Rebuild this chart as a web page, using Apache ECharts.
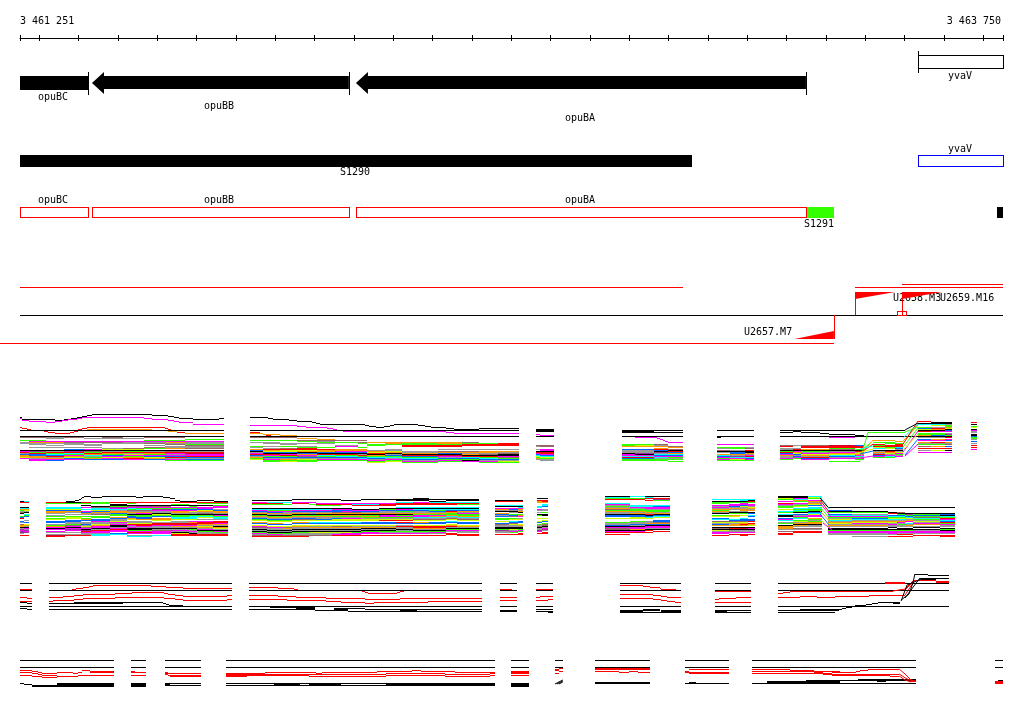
<!DOCTYPE html>
<html>
<head>
<meta charset="utf-8">
<title>opuB region</title>
<script src="https://cdn.jsdelivr.net/npm/echarts@6/dist/echarts.min.js"></script>
<style>
html, body { margin: 0; background: #fff; }
#chart { width: 1024px; height: 714px; }
</style>
</head>
<body>
<div id="chart"></div>
<script>
// x values are bp from the window start, y values are track rows
const rulerTicks = [0,49,149,249,349,449,549,649,749,849,949,1049,1149,1249,1349,1449,1549,1649,1749,1849,1949,2049,2149,2249,2349,2449,2499];
const rulerEnds = [0, 2499];
const rulerLabels = ['3 461 251', '3 463 750'];

const opuNames = ['opuBC', 'opuBB', 'opuBA'];
const opuStart = [0, 183, 854];
const opuEnd = [173, 836, 1998];
const yvaName = 'yvaV';
const yvaStart = 2283;
const yvaEnd = 2499;
const s1290End = 1708;
const s1291Start = 2001;
const s1291End = 2069;
const lastMarkStart = 2484;

// U2657 / U2658 / U2659 transcription units
const unitNames = ['U2657.M7', 'U2658.M3', 'U2659.M16'];
const unitNameX = [1841, 2219, 2339];
const unitNameY = [332, 298, 298];
const wedgeBase = [2069, 2123, 2242];
const wedgeTip = [1969, 2225, 2344];

// k black, r red, g green, b blue, m magenta, c cyan, y yellow, o orange, a grey, t brown, p purple, d dark red, u pure blue
const colorCodes = 'krgbmcyoatpdu';
const colorValues = ['#000000','#ff0000','#33ff00','#0066ff','#ff00ff','#00ffff','#ccff00','#ff9900','#999999','#996666','#993399','#cc0033','#0000ff'];

// profiles: code, x0, y0, x1, y1, ... xn
const profiles1 = [
  ['k',0,417,5,419,89,420,112,419,130,418,145,417,158,416,170,415,183,414,336,415,376,416,392,417,404,418,440,419,506,418,519],
  ['m',0,418,5,420,23,421,66,422,89,421,107,420,122,419,145,418,158,417,315,418,336,419,376,420,392,421,404,422,440,424,519],
  ['r',0,427,5,428,18,429,28],
  ['r',61,431,71,432,89,433,127,432,137,431,147,429,158,428,170,427,369,428,376,429,384],
  ['o',170,429,336],['o',376,431,399,432,419,433,519],['r',399,432,419],
  ['k',0,430,519],['k',0,436,519],
  ['k',585,417,630,418,643,419,684,420,704,421,742,422,752,423,763,424,877,425,887,426,905,427,925,426,941,425,951,424,1012,425,1030,426,1045,427,1083,428,1103,429,1167,428,1269],
  ['k',1103,430,1167],['k',585,430,1269],['k',585,436,1269],
  ['m',585,425,704,426,727,427,780,428,796,429,806],['m',821,431,1083,432,1103,433,1269],
  ['r',585,432,610],['o',585,433,618,434,661,435,704],['r',625,435,638],
  ['k',1312,429,1358],['k',1312,430,1358],['k',1312,431,1358],['m',1312,434,1322,435,1358],['k',1312,436,1358],
  ['k',1530,430,1685],['k',1530,431,1612],['k',1530,432,1685],['k',1530,436,1685],
  ['m',1563,437,1620,438,1627,439,1635,440,1640,441,1647,442,1685],
  ['k',1772,430,1866],['k',1772,436,1866],['k',1772,437,1782],
  ['k',1932,430,2250],['k',1932,432,1965,431,1985,432,2034,433,2057,434,2123,435,2146],['k',1932,436,2369],
  ['m',2057,437,2123],['r',2283,421,2316],['k',2316,422,2369],['k',2283,423,2369],
  ['g',2156,432,2250],['g',2057,461,2135]
];

const profiles2 = [
  ['k',117,501,140,500,150,499,155,498,158,497,163,496,180,497,208,496,295,497,313,496,364,497,381,498,394,500,407,501,450,500,493,501,529],
  ['k',1000,498,1040],['k',2054,507,2377]
];

const profiles3 = [
  ['k',0,583,31],['r',0,589,31],['k',0,590,31],['r',0,597,18,598,31],['r',0,601,31],['k',0,602,18,603,31],['k',0,606,31],['k',0,608,18,609,31],
  ['k',74,583,539],['k',74,590,539],
  ['r',132,589,142,588,160,587,175,586,186,585,333,586,371,587,414,588,539],
  ['r',74,597,109,596,137,595,160,594,242,593,285,592,366,593,376,594,394,595,414,596,526,595,539],
  ['r',74,601,84,600,137,599,160,598,242,597,366,598,394,599,414,600,526,599,539],
  ['k',74,603,262],['k',137,602,262],['k',262,602,364,603,371,604,379,605,414],['k',74,606,539],['k',74,609,539],
  ['k',582,583,1175],['k',582,590,1175],['k',582,606,1175],
  ['r',582,587,656,588,697,589,707],['r',869,591,877,592,885,593,958,592,966,591,976],
  ['r',582,595,656,596,702,597,778,598,877,599,966,598,1175],
  ['r',582,599,679,600,778,601,816,602,877,603,900,602,1037,601,1175],
  ['k',636,607,702],['k',582,609,702],['k',702,607,750],['k',702,608,750],['k',702,609,750],['k',750,610,798],
  ['k',798,608,834],['k',798,609,834],['k',798,610,834],['k',834,608,877],['k',834,611,877],
  ['k',877,609,966],['k',877,611,1175],['k',966,609,1009],['k',966,610,1009],['k',1009,609,1175],
  ['k',1220,583,1263],['r',1220,589,1251],['k',1220,590,1263],['r',1220,597,1263],['r',1220,600,1263],['k',1220,606,1263],['k',1220,610,1263],['k',1220,611,1263],
  ['k',1312,583,1355],['r',1312,589,1355],['k',1312,590,1355],['r',1312,597,1322,596,1355],['r',1312,600,1342,599,1355],['k',1312,606,1355],['k',1312,609,1355],['k',1312,611,1355],['k',1342,612,1355],
  ['k',1525,583,1680],['r',1525,585,1584,586,1602,587,1627,588,1630,589,1668],['k',1525,590,1680],
  ['r',1525,594,1609,595,1630,596,1645,597,1680],['r',1525,598,1609,599,1630,600,1645,601,1665,602,1680],['k',1525,606,1680],
  ['k',1525,610,1584],['k',1525,611,1584],['k',1525,612,1584],['k',1584,609,1627],['k',1584,610,1627],['k',1584,612,1680],['k',1630,610,1680],['k',1630,611,1680],
  ['k',1767,583,1858],['k',1767,590,1858],['r',1767,591,1858],['r',1767,599,1777,598,1820,597,1858],['r',1767,602,1858],['k',1767,606,1858],
  ['k',1767,610,1797],['k',1767,611,1797],['k',1767,612,1797],['k',1797,610,1858],['k',1797,612,1858],
  ['k',1927,583,2362],['k',1927,590,2362],['k',1927,606,2362],
  ['r',1927,593,1940,592,1957,591,2219],['r',1927,597,1983,596,2026,597,2072,596,2158,595,2250],
  ['r',2199,582,2250],['r',2199,583,2250],['r',2275,580,2329,581,2362],['r',2329,582,2362],
  ['k',1927,610,1983],['k',1983,609,2082],['k',1983,610,2082],
  ['k',2082,609,2090,608,2100,607,2115,606,2123,605,2151,604,2166,603,2181,602,2237],['k',2130,606,2151],['k',2219,603,2237],
  ['k',1927,612,2072],['k',2275,574,2308,575,2362],['k',2288,578,2362],['k',2291,579,2329]
];

const profiles4 = [
  ['k',0,660,239],['k',0,667,239],
  ['r',0,670,31,671,46,672,56,673,94,672,135,673,147,672,158,670,178,671,239],['r',178,672,239],
  ['r',0,672,31,673,46,674,56,675,94,676,147,675,239],['r',0,675,31,676,56,677,94,676,147,675,239],
  ['k',0,683,10,684,31,685,94,684,239],['k',31,686,94],['k',94,683,239],['k',94,685,239],['k',94,686,239],
  ['k',282,660,320],['k',282,667,320],['r',282,671,292,672,320],['r',282,672,292],['r',282,675,320],
  ['k',282,683,320],['k',282,684,320],['k',282,685,320],['k',282,686,320],
  ['k',369,660,460],['k',369,667,460],['r',369,672,376,673,460],['r',369,673,376],['r',369,674,376,675,381,676,460],['r',381,675,460],
  ['k',369,683,460],['k',369,685,460],['k',369,684,381],
  ['k',524,660,1208],['k',524,667,1208],
  ['r',524,673,623,672,752,673,768,672,908,671,997,670,1019,671,1106,672,1208],
  ['r',524,674,930,673,1080,674,1195,673,1208],['r',524,676,577,675,735,676,930,675,1080,676,1195,675,1208],['r',524,675,623],
  ['k',524,683,1208],['k',524,685,1208],['k',646,684,712],['k',735,684,816],['k',930,684,1208],
  ['k',1248,660,1294],['k',1248,667,1294],['r',1248,671,1294],['r',1248,672,1294],['r',1248,673,1294],['r',1248,675,1294],
  ['k',1248,683,1294],['k',1248,684,1294],['k',1248,685,1294],['k',1248,686,1294],
  ['k',1360,660,1380],['k',1360,667,1380],['r',1360,669,1370],['r',1360,670,1370],['r',1370,668,1380],['r',1370,671,1380],['r',1360,673,1370],
  ['k',1462,660,1602],['k',1462,667,1602],['r',1462,668,1602],['r',1462,669,1602],['r',1462,671,1523,672,1548,671,1571,672,1602],['k',1462,682,1602],['k',1462,683,1602],
  ['k',1691,660,1802],['k',1691,667,1802],['r',1691,671,1701,669,1802],['r',1701,672,1802],['r',1701,673,1802],['r',1691,672,1701],['k',1691,683,1802],['k',1701,682,1719],
  ['k',1861,660,2278],['k',1861,667,2278],
  ['r',1861,669,1957,670,2019,671,2064,672,2125,671,2135,670,2156,669,2235],['r',1957,671,2019],['r',2064,671,2085],
  ['r',1861,671,2019,672,2041,673,2064,674,2235],['r',1861,673,2041,674,2064,675,2212,676,2235],['r',2260,680,2278],['r',2260,681,2278],
  ['k',1861,683,2278],['k',1899,681,2085],['k',1899,682,2085],['k',1998,680,2085],['k',2085,680,2278],['k',2130,679,2278],['k',2179,681,2202],
  ['k',2479,660,2499],['k',2479,667,2499],['r',2479,681,2499],['r',2479,682,2499],['r',2479,683,2499],['k',2486,680,2499]
];

// sloped profiles, code then x,y pairs
const slopes = [
  ['g',2135,461,2156,432],['o',2135,455,2169,440],['r',2140,452,2169,444],['m',2135,458,2169,456],['c',2135,449,2169,446],['y',2130,453,2169,449],['b',2135,454,2169,451],['g',2140,450,2162,443],
  ['o',2245,441,2283,425],['g',2245,447,2283,428],['m',2245,452,2283,431],['c',2245,438,2283,424],['r',2245,444,2283,421],['b',2250,455,2283,439],['y',2245,450,2283,434],['m',2250,456,2283,444],['k',2250,430,2283,423],['g',2250,432,2283,427],
  ['c',2034,497,2057,509],['k',2034,498,2054,507],['r',2034,500,2057,512],['m',2034,503,2060,516],['g',2034,507,2057,518],['o',2034,511,2060,522],['b',2034,514,2057,525],['y',2036,520,2062,529],['m',2041,523,2065,530],
  ['r',2250,595,2275,580],['r',2219,591,2250,589,2270,581],['r',2250,590,2270,582],
  ['k',2240,600,2260,594,2270,583,2275,574],['k',2250,598,2265,590,2288,578],['k',2240,601,2255,585,2291,579],
  ['r',2235,669,2250,674,2265,680,2278,681],['r',2235,674,2255,679,2270,681],['r',2235,676,2250,680,2265,682],
  ['k',1360,684,1380,680],['k',1365,684,1380,681],['k',1370,684,1380,682]
];

// stacks: column breaks, first row, one string of rows per column ('.' = no line)
const stack1aX = [0,23,66,112,163,208,262,315,369,419,519];
const stack1aTop = 437;
const stack1aCols = [
  't..g.aa......kmrabooym..','t..gmoaa..a..kpgrbbooamm','aa..moa.a.a..kargcbraomb','t...mtaa..a.bkprcgmoybm.','.a..mt.aa.a.mktgrocagob.',
  'ta..mta....aykarogbmymb.','.a..maa....tykgraymgorm.','t..gmat.a.tg.karogmbyob.','t..gmoat.aao.ktrmambramg','..g.maagtaat.kardmmrbabg'
];
const stack1bX = [585,618,661,704,755,801,859,882,928,971,1063,1124,1167,1215,1269];
const stack1bTop = 437;
const stack1bCols = [
  't..g.a...ga.obkamrbaogy...','t..g.aa..a.aroybkrmgbamgg.','t..g..aa.g.tryybkmrgbaogy.','.o.tg.a..agrryokbomtbaygg.','..otaga...g.roobkrcgbamg..',
  '...t.g..am..oombkrgcbamg..','...t.tg...g.oombkargbcmg..','.....o.gg....aoyrkogcbamgy','.....oog....aayokabgcamgy.','.....oggrr....aaokrbgcbamg',
  '.....oogrr..a.tobkdmabgmg.','.....tgrr...a.toaokrcbgkm.','......grr...a.ooatkrgcbamg','......rrr...a.oatkkmtgbayg'
];
const stack1cX = [1312,1322,1358];
const stack1cTop = 445;
const stack1cCols = ['ta..a.krmbcygoa.','tt..mmkrrmbcygaa'];
const stack1dX = [1530,1563,1612,1647,1685];
const stack1dTop = 444;
const stack1dCols = ['ggo..baaakmmcrbgg.','gyo..baaapkmcrbgg.','tao.orbkpacbmcagg.','..to.tkrbocbmgag.g'];
const stack1eX = [1772,1805,1843,1866];
const stack1eTop = 444;
const stack1eCols = ['m..ga.tka.ocbmgmg.','m..gg.akbboapcmyg.','m..at.rkkoamrcbmg.'];
const stack1fX = [1932,1965,1985,2057,2123,2146];
const stack1fTop = 445;
const stack1fCols = ['tr.aakgrbmoaamg.','a..arkmoybabmg..','trr.okgamyoarbm.','drrgtkamoycbam..','brr.gkrayomcamg.'];
const stack1gX = [2169,2199,2224,2245];
const stack1gTop = 440;
const stack1gCols = ['o.g.rgryc.kaoarbmg.','o.gg.rrgy.kroyamcg.','.o.grrrcbakaymgam..'];
const stack1hX = [2283,2316,2352,2369];
const stack1hTop = 424;
const stack1hCols = ['c..gbykr.ggoka.bm.oag.t.r.a.m.','cy.arokm.ggbka.om.rag.o.r.y.m.','aggoykbm.apgkr.mb.oat.b.r.k.m.'];
const stack1iX = [2418,2433];
const stack1iTop = 422;
const stack1iCols = ['r.k.gy.kmaa.kkbgga.b.a.r.r.m'];

const stack2aX = [0,10,23];
const stack2aTop = 501;
const stack2aCols = ['kr....kcogatk..gbr..ba.tookapmppa.r','cr....kcoyak.cgb...a.b.yoakmapmp..r'];
const stack2bX = [66,114,155,180,229,272,295,336,384,429,450,491,529];
const stack2bTop = 502;
const stack2bCols = [
  'rg...ccybooa.ag.gy.bb.agomkm.ma.adr','kg...ccyboa.a.gyy.bbaagtmkmpm.a.ar','rg.k.m.c.mboa.g.gob.aabaytmkprmaar','gg..ktccyboat.gg.bbmaayommkarmmacc',
  'r.kkgpmcaoobgg.obaaymamkkamrmm.bc','rg.ktmcgtaoakgbboy.aayrmamkkgmrm.ac','r..kpmgctaomkggbbo.aayrrmakkgmrm.ac','r..ktmgpmaakygb.ooy.arrmaakatmmm.c',
  'r.gk.mgbmooakggccy.aarrmoakamakyrr','r..kgmgbmyaakgcccy.morrmoakgamakrr','rg.k.mmbyoatkgcy.a.mrroayoamkgaarr','rg.gmm.abooakmgcca.rrmoakoyakmgarr'
];
const stack2cX = [590,628,669,691,735,752,793,816,844,867,913,956,1000,1040,1083,1111,1167];
const stack2cTop = 499;
const stack2cCols = [
  '.k.mrg...kcmbaokgoabgy.ob.ymtakakgmatr','.k.crg...kcgmboakgoabgy.ob.ymaakakgmtr','.k.c.g...kcgmaaokgoabgy..b.ytoakakgatr','k..mr....kcmbaokgoabty.ob.yoaakakgaatr',
  'k..m.g...kcmbaakgoabty.cb.yaoakakyaat.','k...mrg..kcmbaokgoaaby.cb.yaoakakyaat','k...mrg..kmbbtokogabyy.cb.ytoakakyamr','.k..mr...kmbmtokogamyy.cb.ytoakakymmr',
  '.k..mcr...kmbtokogamyy.cb.yaoakakgmmr','k...mcr...kmbaokgogayy.bb.yaokakgmm.r','k...mrr..kgbaaokmmgayr.bb.yaokakgam.r','kk.crr..ckmbgaokgmgayr.rb.araakagam.r',
  'kk.mrr..ckcbaaogmmcaty.ob.yrroakgam.r','k.kcrr..ckcgbaogmocaty.bb.yrroakgma.r','kk.crr..ckcbroggocaty.cb.yorakgma.rr','kk.crg..ckcboamggocaty.bb.yoakgmaa.rr'
];
const stack2dX = [1208,1243,1266,1279];
const stack2dTop = 500;
const stack2dCols = ['kr...ck.moak.obab.gg.y.btaakkgpaa.r','kr...ck.mbaka.gbt.gy.cbtyaakkyamg.r','kr...ckcmoaok.gom.ay.bb.yoakkgmg.rr'];
const stack2eX = [1314,1327,1342];
const stack2eTop = 498;
const stack2eCols = ['k.roo...cc.ma.a.kg..y..yb.gatkaapm.r','k.rro.ccb..aa.g.kk..y.yb.gttkampa.rr'];
const stack2fX = [1487,1551,1589,1609,1652];
const stack2fTop = 496;
const stack2fCols = ['kcgr...cmagaotgoaakbb.y...gaabkmttkmr.r','c.gr.....ccmaggoaokbbyy..gaabakmmokmr','kcr.r....ccmmaggoarkbcy..aaobkmmakr.r','k.rpg....cbmmaggaokbcy..bbtobkmmak.r'];
const stack2gX = [1759,1802,1830,1850,1868];
const stack2gTop = 499;
const stack2gCols = ['c.kgg.mamaogoak.gy.bc.tyabo.ktkyamm.r','c.kg.mmbaoa.akg.oy..cbtyaoo.krkaam.r','cckgmmbyaaooakg.y..cbbtyoro.kdkaam.rr','ckrg.mmayoao.kb.cb..bbr.roy.kmkaam.r'];
const stack2hX = [1927,1965,2003,2039];
const stack2hTop = 496;
const stack2hCols = ['kkyg.m.rmagg.y.cg.ckk.bmc.ag.koooa.t.rr','kkmcog.magy.cgcgk.bamgc.gyaokoa.ta.rr','cyg.moaoyb.ccggkbcymm.ogagookaa.ta.rr'];
const stack2iX = [2054,2115,2207,2230,2250,2270,2339,2377];
const stack2iTop = 507;
const stack2iCols = ['k..bkg.bcmgaycaoyaoa.kkgmmaa','k...kg.acmgbcaoymaoa.kkgmmaa.a','k....kr.bcgycaoyamaak.kgmmma.r','k....tkgbcgycaomagaa.kkgmmar.r','k.....kpgbcyaom.caoa.kkgmmar.r','k.....kgbgtcgayamo.ak.kamma.r','k.....kbkcgrmcbrgmaa.kgkmma.rr'];

const stacks = [
  [stack1aX,stack1aTop,stack1aCols],[stack1bX,stack1bTop,stack1bCols],[stack1cX,stack1cTop,stack1cCols],[stack1dX,stack1dTop,stack1dCols],
  [stack1eX,stack1eTop,stack1eCols],[stack1fX,stack1fTop,stack1fCols],[stack1gX,stack1gTop,stack1gCols],[stack1hX,stack1hTop,stack1hCols],[stack1iX,stack1iTop,stack1iCols],
  [stack2aX,stack2aTop,stack2aCols],[stack2bX,stack2bTop,stack2bCols],[stack2cX,stack2cTop,stack2cCols],[stack2dX,stack2dTop,stack2dCols],
  [stack2eX,stack2eTop,stack2eCols],[stack2fX,stack2fTop,stack2fCols],[stack2gX,stack2gTop,stack2gCols],[stack2hX,stack2hTop,stack2hCols],[stack2iX,stack2iTop,stack2iCols]
];

// everything is turned into [x0, x1, y0, y1, colorIndex]
const rects = [];
function addRect(x0, x1, y0, y1, code) {
  rects.push([x0, x1, y0, y1, colorCodes.indexOf(code)]);
}
function addBox(x0, x1, y0, y1, code) {
  addRect(x0, x1, y0, y0, code);
  addRect(x0, x1, y1, y1, code);
  addRect(x0, x0, y0, y1 + 1, code);
  addRect(x1, x1, y0, y1 + 1, code);
}

// stacks first so that the named profiles sit on top
stacks.forEach(([xs, top, cols]) => {
  cols.forEach((col, j) => {
    for (let i = 0; i < col.length; i++) {
      if (col[i] !== '.') addRect(xs[j], xs[j + 1], top + i, top + i + 1, col[i]);
    }
  });
});
[profiles1, profiles2, profiles3, profiles4].forEach(list => {
  list.forEach(p => {
    for (let i = 1; i + 2 < p.length; i += 2) {
      addRect(p[i], p[i + 2], p[i + 1], p[i + 1] + 1, p[0]);
    }
  });
});

// gene track
addRect(opuStart[0], opuEnd[0], 76, 90, 'k');
opuEnd.forEach(e => addRect(e, e, 72, 95, 'k'));
addBox(yvaStart, yvaEnd, 55, 68, 'k');
addRect(yvaStart, yvaStart, 51, 73, 'k');
// regulon track
addRect(0, s1290End, 155, 167, 'k');
addBox(yvaStart, yvaEnd, 155, 166, 'u');
// operon track
opuStart.forEach((s, i) => addBox(s, opuEnd[i], 207, 217, 'r'));
addRect(s1291Start, s1291End, 207, 218, 'g');
addRect(lastMarkStart, yvaEnd, 207, 218, 'k');
// unit track
addRect(0, 1685, 287, 287, 'r');
addRect(0, 2499, 315, 315, 'k');
addRect(-51, 2069, 343, 343, 'r');
addRect(2123, 2499, 287, 287, 'r');
addRect(2242, 2499, 284, 284, 'r');
addRect(2069, 2069, 315, 339, 'r');
addRect(2123, 2123, 292, 315, 'r');
addRect(2242, 2242, 292, 315, 'r');
addBox(2230, 2253, 311, 315, 'r');

const texts = [];
opuNames.forEach((n, i) => {
  const mid = (opuStart[i] + opuEnd[i]) / 2;
  texts.push([mid, [97, 106, 118][i], n, 'center']);
  texts.push([mid, 200, n, 'center']);
});
texts.push([(yvaStart + yvaEnd) / 2, 76, yvaName, 'center']);
texts.push([(yvaStart + yvaEnd) / 2, 149, yvaName, 'center']);
texts.push([s1290End / 2, 172, 'S1290', 'center']);
texts.push([(s1291Start + s1291End) / 2, 224, 'S1291', 'center']);
unitNames.forEach((n, i) => texts.push([unitNameX[i], unitNameY[i], n, 'left']));

const arrows = [1, 2];   // opuBB and opuBA carry a head
const wedges = [0, 1, 2];
const monoFont = '"DejaVu Sans Mono", monospace';

const chart = echarts.init(document.getElementById('chart'), null, { renderer: 'canvas' });

const rulerAxis = {
  type: 'value', min: 0, max: 2499, position: 'top',
  axisLine: { show: true, onZero: false, lineStyle: { color: '#000', width: 1 } },
  splitLine: { show: false },
  axisTick: { show: true, customValues: rulerTicks, length: 3, lineStyle: { color: '#000', width: 1 } },
  axisLabel: {
    show: true, customValues: rulerEnds, margin: 12, color: '#000', fontSize: 10, fontFamily: monoFont,
    alignMinLabel: 'left', alignMaxLabel: 'right', padding: [0, 2, 0, 0],
    formatter: v => rulerLabels[rulerEnds.indexOf(v)]
  }
};

const option = {
  animation: false,
  backgroundColor: '#fff',
  grid: { left: 20, top: 38, width: 983, height: 676, containLabel: false },
  xAxis: [
    rulerAxis,
    {
      type: 'value', min: 0, max: 2499, position: 'top',
      axisLine: { show: false, onZero: false }, splitLine: { show: false }, axisLabel: { show: false },
      axisTick: { show: true, inside: true, customValues: rulerTicks, length: 3, lineStyle: { color: '#000', width: 1 } }
    }
  ],
  yAxis: { type: 'value', min: 38, max: 714, inverse: true, show: false },
  series: [
    {
      // labels go under the wedges, as in the reference
      type: 'custom', silent: true, z: 2, clip: false, coordinateSystem: 'cartesian2d',
      data: texts.map((t, i) => [t[0], t[1], i]),
      encode: { x: 0, y: 1 },
      renderItem: (params, api) => {
        const t = texts[params.dataIndex];
        const p = api.coord([t[0], t[1]]);
        const nudge = t[3] === 'center' ? -1 : 0;
        return {
          type: 'text',
          style: { text: t[2], x: Math.round(p[0]) + nudge, y: Math.round(p[1]), textAlign: t[3], textVerticalAlign: 'middle', font: '10px ' + monoFont, fill: '#000' }
        };
      }
    },
    {
      type: 'custom', silent: true, z: 3, clip: false, progressive: 0,
      data: rects,
      encode: { x: [0, 1], y: [2, 3] },
      renderItem: (params, api) => {
        const a = api.coord([api.value(0), api.value(2)]);
        const b = api.coord([api.value(1), api.value(3)]);
        const x = Math.round(a[0]);
        const y = Math.round(a[1]);
        return {
          type: 'rect',
          shape: { x, y, width: Math.max(1, Math.round(b[0]) - x), height: Math.max(1, Math.round(b[1]) - y) },
          style: { fill: colorValues[api.value(4)] }
        };
      }
    },
    {
      // opuBB and opuBA arrows
      type: 'custom', silent: true, z: 3, clip: false,
      data: arrows.map(i => [opuStart[i], opuEnd[i]]),
      encode: { x: [0, 1] },
      renderItem: (params, api) => {
        const tip = api.coord([api.value(0), 83]);
        const end = api.coord([api.value(1), 76]);
        const y = v => api.coord([0, v])[1];
        const neck = tip[0] + 12;
        return {
          type: 'polygon',
          shape: { points: [[tip[0], tip[1]], [neck, y(72)], [neck, y(76)], [end[0], y(76)], [end[0], y(89)], [neck, y(89)], [neck, y(94)]] },
          style: { fill: '#000' }
        };
      }
    },
    {
      // unit wedges
      type: 'custom', silent: true, z: 4, clip: false,
      data: wedges.map(i => [wedgeBase[i], wedgeTip[i]]),
      encode: { x: [0, 1] },
      renderItem: (params, api) => {
        const y = v => api.coord([0, v])[1];
        const b = api.coord([api.value(0), 0])[0];
        const t = api.coord([api.value(1), 0])[0];
        const pts = params.dataIndex === 0
          ? [[b, y(331)], [b, y(339)], [t, y(339)]]
          : [[b, y(292)], [t, y(292)], [b, y(299)]];
        return { type: 'polygon', shape: { points: pts }, style: { fill: '#ff0000' } };
      }
    }
  ].concat(slopes.map(s => {
    const pts = [];
    for (let i = 1; i < s.length; i += 2) pts.push([s[i], s[i + 1]]);
    return {
      type: 'line', data: pts, silent: true, clip: false, z: 5, symbol: 'none', animation: false,
      lineStyle: { color: colorValues[colorCodes.indexOf(s[0])], width: 1 }
    };
  }))
};

chart.setOption(option);
</script>
</body>
</html>
